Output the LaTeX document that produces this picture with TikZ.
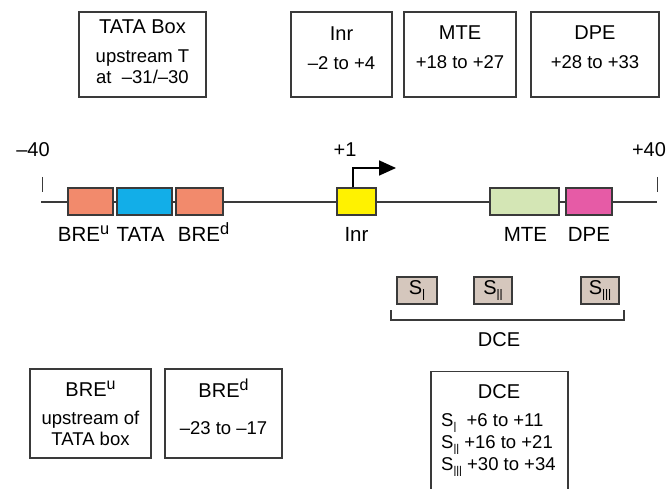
\documentclass[tikz,border=0pt]{standalone}
\usepackage{fontspec}
\setmainfont{Liberation Sans}
\usetikzlibrary{positioning}
\usetikzlibrary{arrows.meta}
\definecolor{brecolor}{HTML}{F28A6C}
\definecolor{tatacolor}{HTML}{12AEE8}
\definecolor{inrcolor}{HTML}{FFF200}
\definecolor{mtecolor}{HTML}{D4E6B5}
\definecolor{dpecolor}{HTML}{E65BA6}
\definecolor{dcecolor}{HTML}{D5C7BD}
\definecolor{edgegray}{HTML}{3A3A3A}
\newcommand{\up}[1]{\raisebox{.36em}{\scalebox{.8}{#1}}}
\newcommand{\dn}[1]{\raisebox{-.3em}{\scalebox{.55}[.8]{#1}}}
\tikzset {
  % boxes that give the positions
  infobox/.style = {draw=edgegray, line width=1.1pt, minimum height=85pt, align=center,
    inner sep=0pt, font=\fontsize{18.5}{21}\selectfont},
  boxtitle/.style = {font=\fontsize{20}{21}\selectfont},
  % elements on the promoter line
  element/.style = {draw=edgegray, line width=1.1pt, minimum height=27pt, inner sep=0pt},
  sbox/.style = {element, fill=dcecolor, font=\fontsize{20}{20}\selectfont},
  elabel/.style = {anchor=base, font=\fontsize{20.5}{20}\selectfont},
  posnum/.style = {font=\fontsize{20}{20}\selectfont},
  strand/.style = {draw=edgegray, line width=1.4pt},
}
\begin{document}
\begin{tikzpicture}[x=1pt, y=-1pt]
  \useasboundingbox (0,0) rectangle (669,489);

  % top row of boxes
  \node[infobox, minimum width=127pt] (tatainfo) at (142.5,54.5)
    {{\fontsize{20}{21}\selectfont TATA Box}\\[8pt] upstream T\\ at \ --31/--30\\[-15pt] \mbox{}};
  \node[infobox, minimum width=101pt] (inrinfo) at (341.5,54.5)
    {{\fontsize{20}{21}\selectfont Inr}\\[8pt] --2 to +4\\[-8pt] \mbox{}};
  \node[infobox, minimum width=112pt] (mteinfo) at (460,54.5)
    {{\fontsize{20}{21}\selectfont MTE}\\[8pt] +18 to +27\\[-6pt] \mbox{}};
  \node[infobox, minimum width=128pt] (dpeinfo) at (595,54.5)
    {{\fontsize{20}{21}\selectfont DPE}\\[8pt] +28 to +33\\[-6pt] \mbox{}};

  % the promoter from -40 to +40
  \coordinate (left) at (41,202);
  \coordinate (right) at (657,202);
  \draw[strand] (left) -- (right);
  \coordinate (lefttick) at (42,177);
  \coordinate (righttick) at (657,177);
  \draw[strand, line width=1pt] (lefttick) -- ++(0,15);
  \draw[strand, line width=1pt] (righttick) -- ++(0,15);
  \node[posnum] (minus40) at (33,150) {--40};
  \node[posnum] (plus40) at (649,150) {+40};

  \node[element, fill=brecolor, minimum width=45pt] (breu) at (90.5,201.5) {};
  \node[element, fill=tatacolor, minimum width=55pt] (tata) at (144.5,201.5) {};
  \node[element, fill=brecolor, minimum width=47pt] (bred) at (199.5,201.5) {};
  \node[element, fill=inrcolor, minimum width=39pt] (inr) at (356.5,201.5) {};
  \node[element, fill=mtecolor, minimum width=69pt] (mte) at (524.5,201.5) {};
  \node[element, fill=dpecolor, minimum width=46pt] (dpe) at (589,201.5) {};

  \node[elabel] (lbreu) at ([xshift=-7pt, yshift=-26pt]breu.south) {BRE\up{u}};
  \node[elabel] (ltata) at ([xshift=-4pt, yshift=-26pt]tata.south) {TATA};
  \node[elabel] (lbred) at ([xshift=4pt, yshift=-26pt]bred.south) {BRE\up{d}};
  \node[elabel] (linr) at ([yshift=-26pt]inr.south) {Inr};
  \node[elabel] (lmte) at ([xshift=1pt, yshift=-26pt]mte.south) {MTE};
  \node[elabel] (ldpe) at ([yshift=-26pt]dpe.south) {DPE};

  % start of transcription
  \coordinate (tss) at (396,168);
  \draw[line width=1.7pt, -{Triangle[length=17pt, width=15pt]}]
    ([xshift=-3.5pt]inr.north) |- (tss);
  \node[posnum] (plus1) at (345,150) {+1};

  % the DCE subelements
  \node[sbox, minimum width=40pt] (s1) at (417,290.5) {S\dn{I}};
  \node[sbox, minimum width=38pt] (s2) at (493,290.5) {S\dn{II}};
  \node[sbox, minimum width=38pt] (s3) at (600,290.5) {S\dn{III}};
  \coordinate (brl) at (391,310);
  \coordinate (brr) at (624,310);
  \draw[strand, line width=1.2pt] (brl) -- ++(0,10) -| (brr);
  \node[boxtitle] (dcelabel) at (499,340) {DCE};

  % bottom row of boxes
  \node[infobox, minimum width=121pt, minimum height=89pt] (breuinfo) at (90.5,413.5)
    {{\fontsize{20}{21}\selectfont BRE\up{u}}\\[7pt] upstream of\\ TATA box};
  \node[infobox, minimum width=117pt, minimum height=89pt] (bredinfo) at (223.5,413.5)
    {{\fontsize{20}{21}\selectfont BRE\up{d}}\\[16pt] --23 to --17\\[-8pt] \mbox{}};
  \node[infobox, minimum width=137pt, minimum height=130pt, anchor=north] (dceinfo) at (499.5,371) {};
  \node[boxtitle] (dcetitle) at (499,392) {DCE};
  \node[anchor=west, align=left, inner sep=0pt, font=\fontsize{18.5}{22}\selectfont] (dcelist) at (441,445)
    {S\dn{I}\ \ +6 to +11\\ S\dn{II} +16 to +21\\ S\dn{III} +30 to +34};
\end{tikzpicture}
\end{document}
